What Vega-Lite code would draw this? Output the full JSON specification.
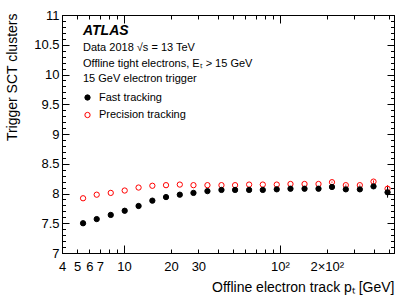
{
  "$schema": "https://vega.github.io/schema/vega-lite/v6.json",
  "width": 332,
  "height": 238,
  "autosize": {"type": "none"},
  "padding": {"left": 62, "top": 15, "right": 21, "bottom": 45},
  "background": "white",
  "config": {
    "font": "Liberation Sans",
    "view": {"stroke": "black", "strokeWidth": 1},
    "axis": {
      "grid": false,
      "domainColor": "black",
      "domainWidth": 1,
      "tickColor": "black",
      "tickWidth": 1,
      "labelColor": "black",
      "labelFont": "Liberation Sans",
      "labelFontSize": 13,
      "labelFlush": false,
      "labelOverlap": false,
      "labelBound": false,
      "titleFont": "Liberation Sans",
      "titleFontSize": 14,
      "titleFontWeight": "normal",
      "titleColor": "black"
    }
  },
  "title": {
    "text": "ATLAS",
    "subtitle": ["Data 2018 √s = 13 TeV", "Offline tight electrons, Eₜ > 15 GeV", "15 GeV electron trigger"],
    "anchor": "start",
    "frame": "group",
    "orient": "top",
    "offset": -75,
    "dx": 21,
    "font": "Liberation Sans",
    "fontSize": 14,
    "fontWeight": "bold",
    "fontStyle": "italic",
    "color": "black",
    "subtitleFont": "Liberation Sans",
    "subtitleFontSize": 11,
    "subtitleColor": "black",
    "subtitlePadding": 4,
    "subtitleLineHeight": 15.5
  },
  "data": {
    "values": [
      {"pt": 5.46, "series": "Precision tracking", "val": 7.92, "err": 0},
      {"pt": 6.68, "series": "Precision tracking", "val": 7.98, "err": 0},
      {"pt": 8.22, "series": "Precision tracking", "val": 8.01, "err": 0},
      {"pt": 10.1, "series": "Precision tracking", "val": 8.05, "err": 0},
      {"pt": 12.4, "series": "Precision tracking", "val": 8.10, "err": 0},
      {"pt": 15.2, "series": "Precision tracking", "val": 8.13, "err": 0},
      {"pt": 18.6, "series": "Precision tracking", "val": 8.14, "err": 0},
      {"pt": 22.8, "series": "Precision tracking", "val": 8.15, "err": 0},
      {"pt": 27.9, "series": "Precision tracking", "val": 8.14, "err": 0},
      {"pt": 34.3, "series": "Precision tracking", "val": 8.14, "err": 0},
      {"pt": 42.2, "series": "Precision tracking", "val": 8.14, "err": 0},
      {"pt": 51.6, "series": "Precision tracking", "val": 8.14, "err": 0},
      {"pt": 63.5, "series": "Precision tracking", "val": 8.15, "err": 0},
      {"pt": 77.7, "series": "Precision tracking", "val": 8.15, "err": 0},
      {"pt": 95.5, "series": "Precision tracking", "val": 8.15, "err": 0},
      {"pt": 117, "series": "Precision tracking", "val": 8.16, "err": 0},
      {"pt": 144, "series": "Precision tracking", "val": 8.16, "err": 0},
      {"pt": 177, "series": "Precision tracking", "val": 8.16, "err": 0},
      {"pt": 216, "series": "Precision tracking", "val": 8.19, "err": 0.01},
      {"pt": 265, "series": "Precision tracking", "val": 8.14, "err": 0.01},
      {"pt": 326, "series": "Precision tracking", "val": 8.14, "err": 0.01},
      {"pt": 399, "series": "Precision tracking", "val": 8.20, "err": 0.02},
      {"pt": 491, "series": "Precision tracking", "val": 8.08, "err": 0.06},
      {"pt": 5.46, "series": "Fast tracking", "val": 7.50, "err": 0},
      {"pt": 6.68, "series": "Fast tracking", "val": 7.57, "err": 0},
      {"pt": 8.22, "series": "Fast tracking", "val": 7.64, "err": 0},
      {"pt": 10.1, "series": "Fast tracking", "val": 7.71, "err": 0},
      {"pt": 12.4, "series": "Fast tracking", "val": 7.79, "err": 0},
      {"pt": 15.2, "series": "Fast tracking", "val": 7.88, "err": 0},
      {"pt": 18.6, "series": "Fast tracking", "val": 7.94, "err": 0},
      {"pt": 22.8, "series": "Fast tracking", "val": 7.98, "err": 0},
      {"pt": 27.9, "series": "Fast tracking", "val": 8.01, "err": 0},
      {"pt": 34.3, "series": "Fast tracking", "val": 8.04, "err": 0},
      {"pt": 42.2, "series": "Fast tracking", "val": 8.06, "err": 0},
      {"pt": 51.6, "series": "Fast tracking", "val": 8.06, "err": 0},
      {"pt": 63.5, "series": "Fast tracking", "val": 8.06, "err": 0},
      {"pt": 77.7, "series": "Fast tracking", "val": 8.06, "err": 0},
      {"pt": 95.5, "series": "Fast tracking", "val": 8.07, "err": 0},
      {"pt": 117, "series": "Fast tracking", "val": 8.08, "err": 0},
      {"pt": 144, "series": "Fast tracking", "val": 8.08, "err": 0},
      {"pt": 177, "series": "Fast tracking", "val": 8.08, "err": 0},
      {"pt": 216, "series": "Fast tracking", "val": 8.11, "err": 0.01},
      {"pt": 265, "series": "Fast tracking", "val": 8.07, "err": 0.01},
      {"pt": 326, "series": "Fast tracking", "val": 8.07, "err": 0.01},
      {"pt": 399, "series": "Fast tracking", "val": 8.12, "err": 0.02},
      {"pt": 491, "series": "Fast tracking", "val": 8.02, "err": 0.09}
    ]
  },
  "layer": [
    {
      "mark": {"type": "point", "shape": "circle", "size": 28, "strokeWidth": 1, "opacity": 1},
      "encoding": {
        "x": {
          "field": "pt", "type": "quantitative",
          "scale": {"type": "log", "domain": [4, 540], "nice": false, "zero": false},
          "axis": {
            "orient": "bottom",
            "values": [4, 5, 6, 7, 8, 9, 10, 20, 30, 40, 50, 60, 70, 80, 90, 100, 200, 300, 400, 500],
            "labelExpr": "indexof([4,5,6,7,10,20,30], datum.value) >= 0 ? '' + datum.value : (datum.value == 100 ? '10²' : (datum.value == 200 ? '2×10²' : ''))",
            "tickSize": {"condition": {"test": "datum.value == 10 || datum.value == 100", "value": -8}, "value": -4},
            "labelPadding": {"condition": {"test": "datum.value == 10 || datum.value == 100", "value": 15}, "value": 11},
            "labelBaseline": "top",
            "title": "Offline electron track pₜ [GeV]",
            "titleAnchor": "end",
            "titleAlign": "right",
            "titleBaseline": "alphabetic",
            "titleX": 332,
            "titleY": 38
          }
        },
        "y": {
          "field": "val", "type": "quantitative",
          "scale": {"domain": [7, 11], "nice": false, "zero": false},
          "axis": {
            "orient": "left",
            "values": [7, 7.1, 7.2, 7.3, 7.4, 7.5, 7.6, 7.7, 7.8, 7.9, 8, 8.1, 8.2, 8.3, 8.4, 8.5, 8.6, 8.7, 8.8, 8.9, 9, 9.1, 9.2, 9.3, 9.4, 9.5, 9.6, 9.7, 9.8, 9.9, 10, 10.1, 10.2, 10.3, 10.4, 10.5, 10.6, 10.7, 10.8, 10.9, 11],
            "labelExpr": "abs(datum.value*2 - round(datum.value*2)) < 0.01 ? format(datum.value, '~g') : ''",
            "tickSize": {"condition": {"test": "abs(datum.value*2 - round(datum.value*2)) < 0.01", "value": -7}, "value": -3.5},
            "labelPadding": {"condition": {"test": "abs(datum.value*2 - round(datum.value*2)) < 0.01", "value": 10}, "value": 6.5},
            "title": "Trigger SCT clusters",
            "titleAngle": -90,
            "titleAnchor": "end",
            "titleAlign": "right",
            "titleBaseline": "middle",
            "titleX": -50,
            "titleY": -2
          }
        },
        "fill": {
          "field": "series", "type": "nominal",
          "scale": {"domain": ["Fast tracking", "Precision tracking"], "range": ["black", "transparent"]},
          "legend": {
            "orient": "none", "legendX": 20, "legendY": 77, "title": null,
            "labelFontSize": 11, "labelColor": "black", "labelFont": "Liberation Sans",
            "symbolSize": 28, "symbolStrokeWidth": 1, "rowPadding": 5.5, "labelOffset": 6, "padding": 0
          }
        },
        "stroke": {
          "field": "series", "type": "nominal",
          "scale": {"domain": ["Fast tracking", "Precision tracking"], "range": ["black", "#ff0000"]},
          "legend": {
            "orient": "none", "legendX": 20, "legendY": 77, "title": null,
            "labelFontSize": 11, "labelColor": "black", "labelFont": "Liberation Sans",
            "symbolSize": 28, "symbolStrokeWidth": 1, "rowPadding": 5.5, "labelOffset": 6, "padding": 0
          }
        }
      }
    },
    {
      "mark": {"type": "errorbar", "ticks": false, "thickness": 1},
      "encoding": {
        "x": {
          "field": "pt", "type": "quantitative",
          "scale": {"type": "log", "domain": [4, 540], "nice": false, "zero": false},
          "axis": {
            "orient": "top",
            "values": [5, 6, 7, 8, 9, 10, 20, 30, 40, 50, 60, 70, 80, 90, 100, 200, 300, 400, 500],
            "labels": false,
            "title": null,
            "tickSize": {"condition": {"test": "datum.value == 10 || datum.value == 100", "value": -8}, "value": -4}
          }
        },
        "y": {
          "field": "val", "type": "quantitative",
          "scale": {"domain": [7, 11], "nice": false, "zero": false},
          "axis": {
            "orient": "right",
            "values": [7, 7.1, 7.2, 7.3, 7.4, 7.5, 7.6, 7.7, 7.8, 7.9, 8, 8.1, 8.2, 8.3, 8.4, 8.5, 8.6, 8.7, 8.8, 8.9, 9, 9.1, 9.2, 9.3, 9.4, 9.5, 9.6, 9.7, 9.8, 9.9, 10, 10.1, 10.2, 10.3, 10.4, 10.5, 10.6, 10.7, 10.8, 10.9, 11],
            "labels": false,
            "title": null,
            "tickSize": {"condition": {"test": "abs(datum.value*2 - round(datum.value*2)) < 0.01", "value": -7}, "value": -3.5}
          }
        },
        "yError": {"field": "err"},
        "color": {
          "field": "series", "type": "nominal",
          "scale": {"domain": ["Fast tracking", "Precision tracking"], "range": ["black", "#ff0000"]},
          "legend": null
        }
      }
    }
  ],
  "resolve": {"axis": {"x": "independent", "y": "independent"}}
}
